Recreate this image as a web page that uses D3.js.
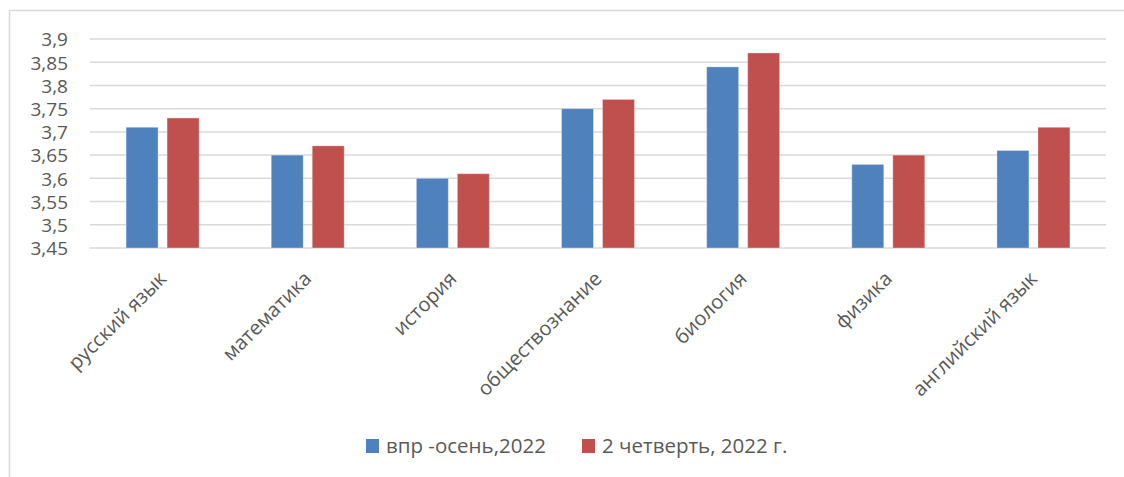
<!DOCTYPE html>
<html><head><meta charset="utf-8">
<script src="https://cdn.jsdelivr.net/npm/d3@7"></script>
<style>
html,body{margin:0;padding:0;background:#fff;}
svg{display:block;font-family:"Open Sans","Noto Sans",sans-serif;}
</style></head>
<body>
<svg id="chart" width="1124" height="477"></svg>
<script>
const categories = ["русский язык","математика","история","обществознание","биология","физика","английский язык"];
const seriesNames = ["впр -осень,2022","2 четверть, 2022 г."];
const vprAutumn = [3.71,3.65,3.60,3.75,3.84,3.63,3.66];
const quarter2 = [3.73,3.67,3.61,3.77,3.87,3.65,3.71];
const yTicks = [3.45,3.5,3.55,3.6,3.65,3.7,3.75,3.8,3.85,3.9];
const colors = ["#4f81bd","#c0504d"];

(function(){
const svg = d3.select("#chart");
// frame
svg.append("path").attr("d","M9.5,477 V10.5 H1124").attr("fill","none").attr("stroke","#d9d9d9").attr("stroke-width",1.5);

const pLeft=90, pRight=1106, pTop=39, pBottom=248;
const x = d3.scaleBand().domain(categories).range([pLeft,pRight]);
const y = d3.scaleLinear().domain([3.45,3.9]).range([pBottom,pTop]);
const fmt = v => d3.format("~g")(v).replace(".",",");

// gridlines
svg.append("g").selectAll("line").data(yTicks).join("line")
  .attr("x1",pLeft).attr("x2",pRight)
  .attr("y1",d=>y(d)).attr("y2",d=>y(d))
  .attr("stroke","#d9d9d9").attr("stroke-width",1.5);

// y axis labels
const yAxis = d3.axisLeft(y).tickValues(yTicks).tickFormat(fmt).tickSize(0).tickPadding(0);
const yg = svg.append("g").attr("transform",`translate(${pLeft-22},0)`).call(yAxis);
yg.select(".domain").remove();
yg.selectAll("text").attr("fill","#595959").style("font-size","19px").style("font-family","'Open Sans','Noto Sans',sans-serif").attr("dy","0.36em");

// bars
const data = [vprAutumn, quarter2];
const barW = 32, gap = 9;
data.forEach((vals,si)=>{
  svg.append("g").selectAll("rect").data(vals).join("rect")
    .attr("x",(d,i)=>x(categories[i]) + x.bandwidth()/2 + (si===0 ? -(barW+gap/2) : gap/2))
    .attr("y",d=>y(d))
    .attr("width",barW)
    .attr("height",d=>y(3.45)-y(d))
    .attr("fill",colors[si])
    .attr("stroke","#ffffff").attr("stroke-opacity",0.35).attr("stroke-width",1);
});

// x labels
const xAxis = d3.axisBottom(x).tickSize(0).tickPadding(0);
const xg = svg.append("g").attr("transform",`translate(0,${pBottom})`).call(xAxis);
xg.select(".domain").remove();
xg.selectAll("text")
  .attr("fill","#595959").style("font-size","20px").style("font-family","'Open Sans','Noto Sans',sans-serif")
  .attr("text-anchor","end").attr("dy","0")
  .attr("transform","translate(5,32) rotate(-45)");

// legend
const legend = svg.append("g");
const lx = [366, 582];
seriesNames.forEach((n,i)=>{
  legend.append("rect").attr("x",lx[i]).attr("y",439).attr("width",13).attr("height",14).attr("fill",colors[i]);
  legend.append("text").attr("x",lx[i]+20).attr("y",453).text(n)
    .attr("fill","#595959").style("font-size","20.5px");
});
})();
</script>
</body></html>
